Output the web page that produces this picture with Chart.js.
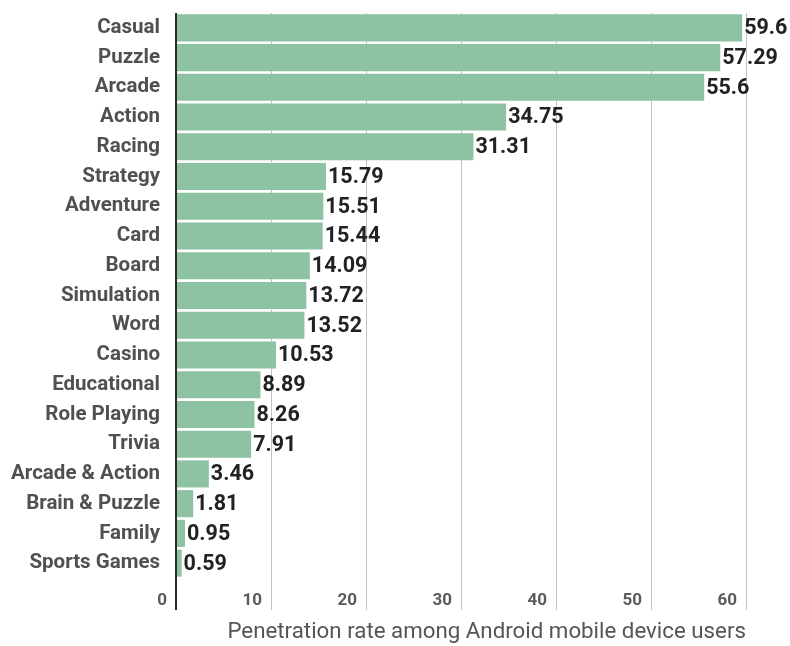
<!DOCTYPE html>
<html>
<head>
<meta charset="utf-8">
<script src="https://cdn.jsdelivr.net/npm/chart.js@4/dist/chart.umd.min.js"></script>
<style>
  html, body { margin: 0; padding: 0; background: #fff; }
  #wrap { width: 790px; height: 646px; position: relative; }
</style>
</head>
<body>
<div id="wrap"><canvas id="chart"></canvas></div>
<script>
// Game genre penetration among Android users (%)
const genres = [
  'Casual', 'Puzzle', 'Arcade', 'Action', 'Racing', 'Strategy', 'Adventure',
  'Card', 'Board', 'Simulation', 'Word', 'Casino', 'Educational',
  'Role Playing', 'Trivia', 'Arcade & Action', 'Brain & Puzzle', 'Family',
  'Sports Games'
];
const penetration = [
  59.6, 57.29, 55.6, 34.75, 31.31, 15.79, 15.51, 15.44, 14.09, 13.72,
  13.52, 10.53, 8.89, 8.26, 7.91, 3.46, 1.81, 0.95, 0.59
];
const valueLabels = [
  '59.6', '57.29', '55.6', '34.75', '31.31', '15.79', '15.51', '15.44',
  '14.09', '13.72', '13.52', '10.53', '8.89', '8.26', '7.91', '3.46',
  '1.81', '0.95', '0.59'
];
const xTicks = [0, 10, 20, 30, 40, 50, 60];
const axisTitle = 'Penetration rate among Android mobile device users';

const FONT = "Roboto, 'Noto Sans', sans-serif";
const BAR = '#8dc3a2';

// value labels right of each bar
const barValues = {
  id: 'barValues',
  afterDatasetsDraw(chart) {
    const ctx = chart.ctx;
    const meta = chart.getDatasetMeta(0);
    ctx.save();
    ctx.font = `bold 21.5px ${FONT}`;
    ctx.fillStyle = '#222';
    ctx.textAlign = 'left';
    ctx.textBaseline = 'middle';
    meta.data.forEach((bar, i) => {
      ctx.fillText(valueLabels[i], bar.x + 2, bar.y + 1);
    });
    ctx.restore();
  }
};

new Chart(document.getElementById('chart'), {
  type: 'bar',
  data: {
    labels: genres,
    datasets: [{
      data: penetration,
      backgroundColor: BAR,
      borderWidth: 0,
      barPercentage: 0.91,
      categoryPercentage: 1
    }]
  },
  options: {
    indexAxis: 'y',
    responsive: true,
    maintainAspectRatio: false,
    animation: false,
    layout: { padding: { top: 13, left: 8, right: 44, bottom: 0 } },
    plugins: {
      legend: { display: false },
      tooltip: { enabled: false }
    },
    scales: {
      x: {
        min: 0,
        max: 60,
        afterBuildTicks: s => { s.ticks = xTicks.map(v => ({ value: v })); },
        afterFit: s => { s.height = 68; },
        border: { display: false },
        grid: {
          color: c => c.tick && c.tick.value === 0 ? '#2b2b2b' : '#c2c2c2',
          lineWidth: c => c.tick && c.tick.value === 0 ? 2 : 1,
          drawTicks: true,
          tickLength: 32,
          tickColor: c => c.tick && c.tick.value === 0 ? '#2b2b2b' : '#c2c2c2'
        },
        ticks: {
          align: 'end',
          labelOffset: -9,
          padding: -19,
          color: '#5a5a5a',
          font: { family: FONT, size: 17, weight: 'bold' }
        },
        title: {
          display: true,
          text: axisTitle,
          align: 'end',
          color: '#555',
          padding: { top: 0, bottom: 0 },
          font: { family: FONT, size: 22.3 }
        }
      },
      y: {
        afterFit: s => {
          s.width = 168;
          s.paddingTop = 0;
          s.paddingBottom = 0;
        },
        border: { display: false },
        grid: { display: false, drawTicks: false },
        ticks: {
          padding: 16,
          color: '#505050',
          font: { family: FONT, size: 20.5, weight: 'bold' }
        }
      }
    }
  },
  plugins: [barValues]
});
</script>
</body>
</html>
